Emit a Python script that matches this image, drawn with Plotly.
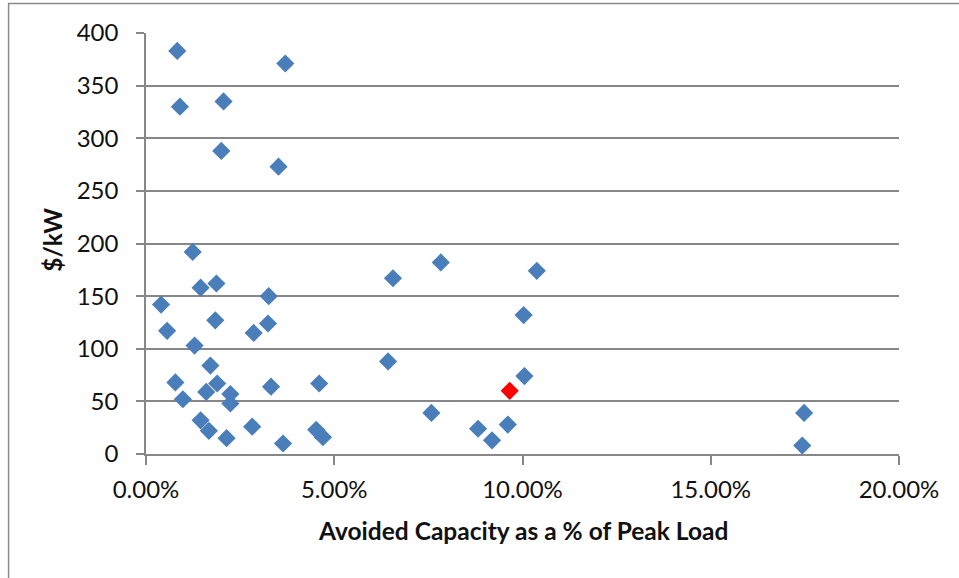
import plotly.graph_objects as go

# Avoided capacity (% of peak load) and cost ($/kW) for each program
capacity_pct = [
    0.83, 3.70, 0.90, 2.06, 2.00, 3.52, 1.24, 1.45, 1.87, 0.40, 3.26,
    0.56, 1.84, 2.86, 3.24, 1.29, 1.71, 0.78, 0.98, 1.60, 1.89, 2.24,
    2.24, 3.32, 4.60, 1.45, 1.67, 2.14, 2.82, 3.64, 4.52, 4.70, 6.56,
    7.83, 10.38, 10.03, 6.43, 10.05, 7.58, 8.82, 9.19, 9.61, 17.48, 17.43,
]
cost_per_kw = [
    383, 371, 330, 335, 288, 273, 192, 158, 162, 142, 150,
    117, 127, 115, 124, 103, 84, 68, 52, 59, 67, 57,
    48, 64, 67, 32, 22, 15, 26, 10, 23, 16, 167,
    182, 174, 132, 88, 74, 39, 24, 13, 28, 39, 8,
]

# Highlighted program
highlight_pct = [9.66]
highlight_cost = [60]

x_ticks = [0.0, 0.05, 0.10, 0.15, 0.20]
y_ticks = [0, 50, 100, 150, 200, 250, 300, 350, 400]

FONT = "Lato, 'Open Sans', sans-serif"
GRID = "#878787"

fig = go.Figure()
fig.add_trace(go.Scatter(
    x=[v / 100 for v in capacity_pct], y=cost_per_kw,
    mode="markers",
    marker=dict(symbol="diamond", size=14, color="#4A7EBB",
                line=dict(width=0)),
    hoverinfo="skip", showlegend=False,
))
fig.add_trace(go.Scatter(
    x=[v / 100 for v in highlight_pct], y=highlight_cost,
    mode="markers",
    marker=dict(symbol="diamond", size=14, color="#FF0000",
                line=dict(width=0)),
    hoverinfo="skip", showlegend=False,
))

L, R, T, B = 145.5, 899, 32.5, 454
W, H = 959, 578
pw, ph = R - L, B - T

fig.update_layout(
    width=W, height=H,
    margin=dict(l=L, r=W - R, t=T, b=H - B, pad=0),
    paper_bgcolor="white", plot_bgcolor="white",
    font=dict(family=FONT, size=24, color="#111111"),
    xaxis=dict(
        range=[0, 0.20], tickvals=x_ticks, tickformat=".2%",
        showgrid=False, zeroline=False,
        showline=True, linecolor=GRID, linewidth=1.5,
        ticks="outside", ticklen=9, tickcolor=GRID, tickwidth=1.5,
        ticklabelstandoff=4,
    ),
    yaxis=dict(
        range=[0, 400], tickvals=y_ticks,
        showgrid=True, gridcolor=GRID, gridwidth=1.5,
        zeroline=False,
        showline=True, linecolor=GRID, linewidth=1.5,
        ticks="outside", ticklen=8, tickcolor=GRID, tickwidth=1.5,
        ticklabelstandoff=13,
    ),
    showlegend=False,
)

# Axis titles
fig.add_annotation(
    text="<b>Avoided Capacity as a % of Peak Load</b>",
    xref="paper", yref="paper",
    x=(522.5 - L) / pw, y=-(531 - B) / ph,
    showarrow=False, xanchor="center", yanchor="middle",
    font=dict(family=FONT, size=24.5, color="#111111"),
)
fig.add_annotation(
    text="<b>$/kW</b>",
    xref="paper", yref="paper",
    x=-(L - 52) / pw, y=(B - 240) / ph,
    showarrow=False, xanchor="center", yanchor="middle", textangle=-90,
    font=dict(family=FONT, size=24.5, color="#111111"),
)

# Chart frame
fig.add_shape(
    type="rect", xref="paper", yref="paper",
    x0=-(L - 8) / pw, x1=(W + 20 - L) / pw,
    y0=-(H + 20 - B) / ph, y1=(B - 3) / ph,
    line=dict(color="#8a8a8a", width=1.5), fillcolor="rgba(0,0,0,0)",
    layer="below",
)

fig.write_html("out.html")
